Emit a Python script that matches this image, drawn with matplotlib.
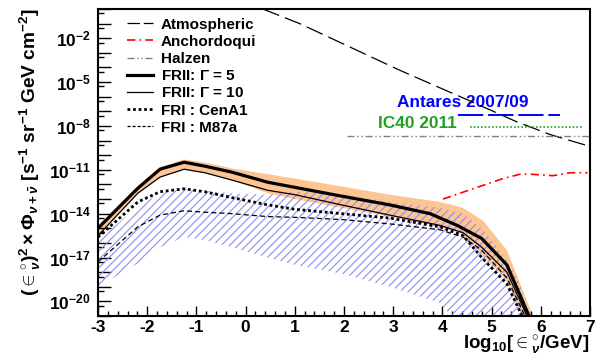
import numpy as np
import matplotlib
matplotlib.use("Agg")
from matplotlib import pyplot as plt
from matplotlib.lines import Line2D
from matplotlib.ticker import FixedLocator, FuncFormatter, MultipleLocator

plt.rcParams["font.family"] = ["Liberation Sans", "DejaVu Sans"]
plt.rcParams["font.weight"] = "bold"
plt.rcParams["mathtext.fontset"] = "custom"
plt.rcParams["mathtext.rm"] = "Liberation Sans:bold"
plt.rcParams["mathtext.bf"] = "Liberation Sans:bold"
plt.rcParams["mathtext.it"] = "Liberation Sans:bold:italic"
plt.rcParams["axes.unicode_minus"] = False
plt.rcParams["hatch.linewidth"] = 0.8

# log10(E/GeV) and log10(flux)
x_g5 = [-3, -2.19, -1.74, -1.25, -0.83, -0.28, 0.45, 1.0, 1.95, 2.93, 3.75, 4.3, 4.8, 5.31, 5.76]
y_g5 = [-15.0, -12.26, -10.96, -10.48, -10.75, -11.16, -11.85, -12.2, -12.8, -13.4, -14.0, -14.8, -15.7, -17.5, -21.0]

x_g10 = [-3, -2.19, -1.74, -1.25, -0.83, -0.28, 0.45, 1.0, 1.95, 2.93, 3.95, 4.42, 4.8, 5.31, 5.72]
y_g10 = [-15.5, -12.6, -11.5, -10.96, -11.2, -11.7, -12.4, -12.7, -13.4, -14.1, -14.8, -15.3, -16.3, -18.0, -21.0]

x_cena = [-3, -2.19, -1.74, -1.25, -0.83, -0.28, 0.45, 1.0, 1.95, 2.93, 3.95, 4.42, 4.8, 5.31, 5.62]
y_cena = [-15.6, -13.2, -12.5, -12.3, -12.5, -12.9, -13.4, -13.7, -14.0, -14.3, -14.9, -15.5, -17.0, -18.8, -21.0]

x_m87 = [-3, -2.19, -1.74, -1.25, -0.83, -0.28, 0.45, 1.0, 1.95, 2.93, 3.95, 4.42, 4.8, 5.31, 5.68]
y_m87 = [-17.3, -14.9, -14.1, -13.8, -13.9, -14.0, -14.2, -14.25, -14.4, -14.7, -15.1, -15.6, -16.5, -18.4, -21.0]

# FRII band (orange)
x_or_hi = [-3, -2.19, -1.74, -1.25, -0.83, -0.28, 0.45, 1.0, 2.93, 3.95, 4.42, 4.83, 5.31, 5.58, 5.84]
y_or_hi = [-14.8, -12.1, -10.8, -10.3, -10.5, -10.9, -11.3, -11.6, -12.7, -13.2, -13.6, -14.5, -16.5, -18.8, -21.0]
x_or_lo = [-3, -2.19, -1.74, -1.25, -0.83, -0.28, 0.45, 1.0, 2.93, 3.95, 4.42, 4.8, 5.31, 5.62]
y_or_lo = [-15.5, -12.6, -11.5, -10.96, -11.2, -11.7, -12.6, -13.0, -14.2, -14.9, -15.4, -16.8, -18.6, -21.0]

# FRI band (hatched)
x_fr_hi = [-3, -2.19, -1.74, -1.25, -0.28, 0.45, 1.0, 1.95, 2.93, 3.95, 4.42, 4.83, 5.31, 5.58, 5.74]
y_fr_hi = [-15.8, -13.5, -12.6, -12.3, -12.6, -12.7, -12.5, -12.7, -13.2, -13.6, -14.0, -15.1, -17.2, -18.8, -21.0]
x_fr_lo = [-3, -2.19, -1.74, -1.25, -0.83, -0.28, 0.45, 1.0, 1.95, 2.93, 3.95, 4.3, 5.74]
y_fr_lo = [-19.0, -17.4, -16.3, -15.6, -15.8, -16.3, -17.0, -17.5, -18.1, -19.0, -20.1, -21.5, -21.5]

x_atm = [0.35, 1.1, 2.12, 3.14, 4.5, 5.5, 6.2, 7.0]
y_atm = [0.0, -1.0, -2.6, -4.2, -6.2, -7.7, -8.6, -9.4]

x_anch = [4.01, 4.62, 5.23, 5.58, 5.78, 6.25, 6.6, 6.95]
y_anch = [-13.0, -12.3, -11.6, -11.3, -11.3, -11.4, -11.2, -11.2]

x_halzen = [2.06, 7.0]
y_halzen = [-8.7, -8.7]
x_antares = [4.32, 6.39]
y_antares = [-7.26, -7.26]
x_ic40 = [4.56, 6.86]
y_ic40 = [-8.08, -8.08]

orange = "#fdc592"
hatch_blue = "#8c8cf2"

fig = plt.figure(figsize=(5.98, 3.58), dpi=100)
ax = fig.add_axes([98 / 598, 42 / 358, 492 / 598, 307 / 358])

p = lambda v: 10.0 ** np.asarray(v)

ax.fill(np.r_[x_or_hi, x_or_lo[::-1]], p(np.r_[y_or_hi, y_or_lo[::-1]]),
        color=orange, lw=0, zorder=1)
ax.fill(np.r_[x_fr_hi, x_fr_lo[::-1]], p(np.r_[y_fr_hi, y_fr_lo[::-1]]),
        facecolor="none", edgecolor=hatch_blue, hatch="////", lw=0, zorder=2)

ax.plot(x_g5, p(y_g5), color="black", lw=2.3, zorder=5)
ax.plot(x_g10, p(y_g10), color="black", lw=0.9, zorder=5)
ax.plot(x_cena, p(y_cena), color="black", lw=2.0, dashes=(1.0, 1.0), zorder=5)
ax.plot(x_m87, p(y_m87), color="black", lw=0.9, dashes=(4, 2.5), zorder=5)

ax.plot(x_atm, p(y_atm), color="black", lw=0.9, dashes=(14, 5), zorder=4)
ax.plot(x_anch, p(y_anch), color="red", lw=1.2, dashes=(5, 2.5, 1, 2.5), zorder=4)
ax.plot(x_halzen, p(y_halzen), color="#808080", lw=1.0, dashes=(5, 2, 1, 2, 1, 2), zorder=4)
ax.plot(x_antares, p(y_antares), color="blue", lw=1.4, dashes=(13, 2.5), zorder=4)
ax.plot(x_ic40, p(y_ic40), color="#22a022", lw=1.2, dashes=(1, 1.2), zorder=4)

ax.text(4.42, 10 ** -6.4, "Antares 2007/09", color="blue", fontsize=12.4,
        fontweight="bold", ha="center", va="center")
ax.text(4.30, 10 ** -7.8, "IC40 2011", color="#22a022", fontsize=12.4,
        fontweight="bold", ha="right", va="center")

ax.set_yscale("log")
ax.set_xlim(-3, 7)
ax.set_ylim(1e-21, 1)

ax.xaxis.set_major_locator(MultipleLocator(1))
ax.xaxis.set_minor_locator(MultipleLocator(0.2))
ax.yaxis.set_major_locator(FixedLocator([10.0 ** k for k in range(-21, 1)]))
ax.yaxis.set_minor_locator(FixedLocator([5 * 10.0 ** k for k in range(-22, 0)]))


def ylab(v, pos):
    k = int(round(np.log10(v)))
    if k % 3 == 1 and k < 0:
        return r"$10^{%d}$" % k
    return ""


ax.yaxis.set_major_formatter(FuncFormatter(ylab))
ax.yaxis.set_minor_formatter(FuncFormatter(lambda v, pos: ""))
ax.tick_params(axis="both", which="both", direction="in", top=False, right=False)
ax.tick_params(axis="x", which="major", length=7, width=1, labelsize=12.5, pad=3)
ax.tick_params(axis="x", which="minor", length=3.5, width=1)
ax.tick_params(axis="y", which="major", length=9, width=1, labelsize=12.5, pad=5)
ax.tick_params(axis="y", which="minor", length=4.5, width=1)
for lab in ax.get_xticklabels():
    lab.set_fontweight("bold")
for s in ax.spines.values():
    s.set_linewidth(1.5)

handles = [
    Line2D([], [], color="black", lw=0.9, dashes=(10, 3)),
    Line2D([], [], color="red", lw=1.2, dashes=(5, 2.5, 1, 2.5)),
    Line2D([], [], color="#808080", lw=1.0, dashes=(5, 2, 1, 2, 1, 2)),
    Line2D([], [], color="black", lw=2.3),
    Line2D([], [], color="black", lw=0.9),
    Line2D([], [], color="black", lw=2.0, dashes=(1.0, 1.0)),
    Line2D([], [], color="black", lw=0.9, dashes=(2.5, 1.5)),
]
labels = ["Atmospheric", "Anchordoqui", "Halzen", r"FRII: $\Gamma$ = 5",
          r"FRII: $\Gamma$ = 10", "FRI : CenA1", "FRI : M87a"]
ax.legend(handles, labels, loc="upper left", bbox_to_anchor=(127 / 598, 1 - 17.5 / 358),
          bbox_transform=fig.transFigure, frameon=False,
          handlelength=1.7, handletextpad=0.52, labelspacing=0.21,
          borderpad=0, borderaxespad=0, prop={"weight": "bold", "size": 11})

fig.text(30 / 598, 1 - 8 / 358,
         r"$(\in^{\circ}_{\nu})^{2}\times\Phi_{\nu+\bar{\nu}}$ [s$^{-1}$ sr$^{-1}$ GeV cm$^{-2}$]",
         rotation=90, ha="center", va="top", fontsize=13.8, fontweight="bold")
fig.text(590 / 598, 1 - 350 / 358, r"log$_{10}$[$\in^{\circ}_{\nu}$/GeV]",
         ha="right", va="baseline", fontsize=13.5, fontweight="bold")

fig.savefig("out.png", dpi=100)
